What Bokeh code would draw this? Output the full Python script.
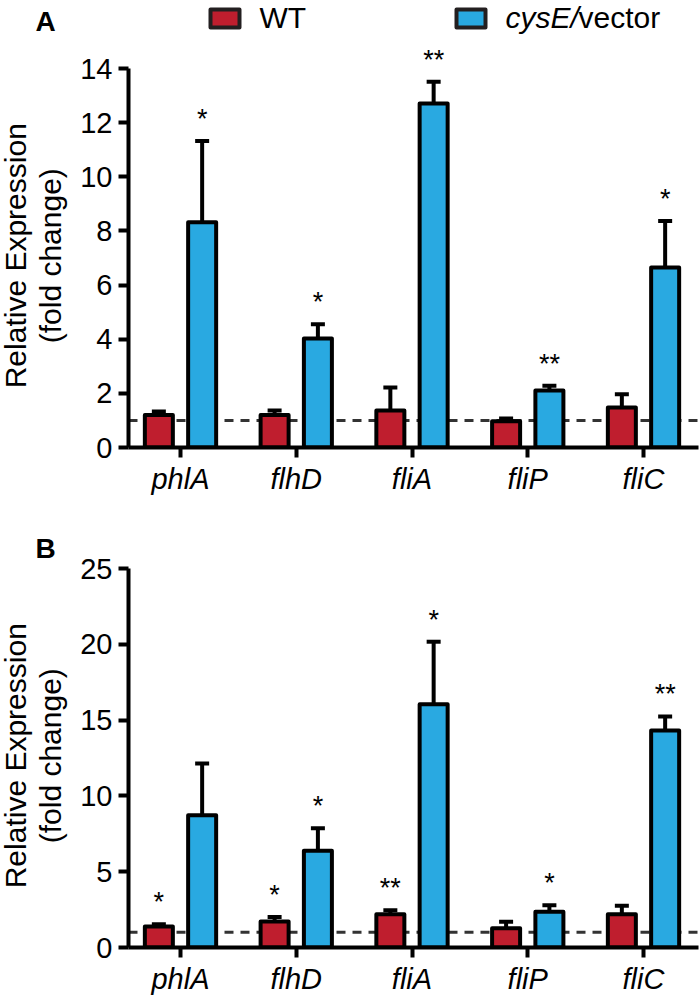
import numpy as np
import pandas as pd
from bokeh.plotting import figure
from bokeh.models import (ColumnDataSource, FixedTicker, Span, Whisker, TeeHead, Range1d)
from bokeh.layouts import column, row
from bokeh.embed import file_html
from bokeh.resources import INLINE
from bokeh.core.properties import value
from bokeh.transform import dodge

# ---------------- data ----------------
genes = ["phlA", "flhD", "fliA", "fliP", "fliC"]
groups = ["WT", "cysE/vector"]
y_title = ["Relative Expression", "(fold change)"]

# Panel A
a_wt = [1.20, 1.20, 1.37, 0.97, 1.48]
a_wt_err = [0.13, 0.17, 0.85, 0.10, 0.49]
a_cys = [8.32, 4.03, 12.71, 2.11, 6.65]
a_cys_err = [3.00, 0.52, 0.80, 0.17, 1.72]
a_wt_sig = ["", "", "", "", ""]
a_cys_sig = ["*", "*", "**", "**", "*"]
a_ticks = [0, 2, 4, 6, 8, 10, 12, 14]

# Panel B
b_wt = [1.39, 1.72, 2.20, 1.27, 2.20]
b_wt_err = [0.14, 0.30, 0.26, 0.43, 0.55]
b_cys = [8.73, 6.38, 16.05, 2.36, 14.32]
b_cys_err = [3.41, 1.49, 4.12, 0.43, 0.92]
b_wt_sig = ["*", "*", "**", "", ""]
b_cys_sig = ["", "*", "*", "*", "**"]
b_ticks = [0, 5, 10, 15, 20, 25]

baseline_level = 1.0

# ---------------- style / layout ----------------
RED = "#BF1E2E"
BLUE = "#29A9E1"
FONT = "Liberation Sans"
LEFT_W = 75          # side strip holding panel letter and y title
MAIN_W = 625
BORDER_L = 53        # frame left at page x = 128
BORDER_R = 2
PPU_X = 115.75
X0 = -(180 - (LEFT_W + BORDER_L)) / PPU_X
X1 = X0 + (MAIN_W - BORDER_L - BORDER_R) / PPU_X
FRAME_LEFT = LEFT_W + BORDER_L
OFF = 0.187
BAR_W = 0.242


def dx(px):
    return X0 + (px - FRAME_LEFT) / PPU_X


def side_strip(letter, height, letter_base, title_mid):
    s = figure(width=LEFT_W, height=height, output_backend="svg", toolbar_location=None,
               x_range=Range1d(0, LEFT_W), y_range=Range1d(0, height),
               x_axis_type=None, y_axis_type=None,
               min_border_left=0, min_border_right=0, min_border_top=0, min_border_bottom=0)
    s.outline_line_color = None
    s.grid.visible = False
    s.text(x=[35], y=[height - letter_base], text=[letter], text_font=value(FONT),
           text_font_size="28px", text_font_style="bold", text_color="black",
           text_align="left", text_baseline="alphabetic")
    s.text(x=[15, 50], y=[height - title_mid] * 2, text=y_title, angle=np.pi / 2,
           text_font=value(FONT), text_font_size="30px", text_color="black",
           text_align="center", text_baseline="alphabetic")
    return s


def make_panel(wt, wt_err, cys, cys_err, wt_sig, cys_sig, ticks,
               ppu_y, height, border_bottom, star_off, legend=False):
    frame_h = height - border_bottom
    top_val = frame_h / ppu_y

    def dy(py):  # py measured from the top of this figure
        return (frame_h - py) / ppu_y

    df = pd.DataFrame(dict(idx=np.arange(len(genes)), wt=wt, wt_err=wt_err,
                           cys=cys, cys_err=cys_err, wt_sig=wt_sig, cys_sig=cys_sig))
    df["wt_hi"] = df.wt + df.wt_err
    df["cys_hi"] = df.cys + df.cys_err
    df["wt_star"] = df.wt_hi + star_off
    df["cys_star"] = df.cys_hi + star_off
    src = ColumnDataSource(df)

    p = figure(width=MAIN_W, height=height, output_backend="svg", toolbar_location=None,
               x_range=Range1d(X0, X1), y_range=Range1d(0, top_val),
               min_border_left=BORDER_L, min_border_right=BORDER_R, min_border_top=0,
               min_border_bottom=border_bottom)
    p.outline_line_color = None
    p.grid.visible = False
    p.background_fill_color = "white"
    p.border_fill_color = "white"

    span = Span(location=baseline_level, dimension="width", line_color="#333333",
                line_width=3, line_dash="9 7", level="underlay")
    p.add_layout(span)

    p.vbar(x=dodge("idx", -OFF), top="wt", width=BAR_W, bottom=0, source=src,
           fill_color=RED, line_color="black", line_width=4, line_join="round")
    p.vbar(x=dodge("idx", OFF), top="cys", width=BAR_W, bottom=0, source=src,
           fill_color=BLUE, line_color="black", line_width=4, line_join="round")

    for off, lo, hi in [(-OFF, "wt", "wt_hi"), (OFF, "cys", "cys_hi")]:
        w = Whisker(base=dodge("idx", off), lower=lo, upper=hi, source=src,
                    dimension="height", line_width=4, line_color="black",
                    upper_head=TeeHead(size=14, line_width=4, line_color="black"),
                    lower_head=None)
        p.add_layout(w)

    for off, ycol, tcol in [(-OFF, "wt_star", "wt_sig"), (OFF, "cys_star", "cys_sig")]:
        p.text(x=dodge("idx", off), y=ycol, text=tcol, source=src,
               text_font=value(FONT), text_font_size="27px", text_align="center",
               text_baseline="alphabetic", text_color="black")

    # axes
    p.yaxis.ticker = FixedTicker(ticks=ticks)
    p.yaxis.bounds = (0, ticks[-1])
    p.xaxis.ticker = FixedTicker(ticks=list(range(len(genes))))
    p.xaxis.major_label_overrides = {i: g for i, g in enumerate(genes)}
    for ax in (p.xaxis, p.yaxis):
        ax.axis_line_width = 4
        ax.axis_line_color = "black"
        ax.major_tick_line_width = 4
        ax.major_tick_line_color = "black"
        ax.major_tick_out = 10
        ax.major_tick_in = 0
        ax.minor_tick_line_color = None
        ax.major_label_text_font = FONT
        ax.major_label_text_font_size = "29px"
        ax.major_label_text_color = "black"
    p.yaxis.major_label_standoff = 6
    p.xaxis.major_label_standoff = 5
    p.xaxis.major_label_text_font_style = "italic"

    if legend:
        p.rect(x=[dx(224.5), dx(470.5)], y=dy(18), width=29, height=18,
               width_units="screen", height_units="screen",
               fill_color=[RED, BLUE], line_color="#231F20", line_width=4,
               line_join="round")
        p.text(x=[dx(259)], y=[dy(17)], text=[groups[0]], text_font=value(FONT),
               text_font_size="30px", text_color="black", text_baseline="alphabetic")
        part1, part2 = groups[1].split("/")
        p.text(x=[dx(505)], y=[dy(17)], text=[part1 + "/"], text_font=value(FONT),
               text_font_size="30px", text_font_style="italic", text_color="black",
               text_baseline="alphabetic")
        p.text(x=[dx(578)], y=[dy(17)], text=[part2], text_font=value(FONT),
               text_font_size="30px", text_color="black", text_baseline="alphabetic")
    return p


HA, HB = 500, 500
pa = make_panel(a_wt, a_wt_err, a_cys, a_cys_err, a_wt_sig, a_cys_sig, a_ticks,
                ppu_y=379 / 14, height=HA, border_bottom=53, star_off=0.82, legend=True)
pb = make_panel(b_wt, b_wt_err, b_cys, b_cys_err, b_wt_sig, b_cys_sig, b_ticks,
                ppu_y=379 / 25, height=HB, border_bottom=53, star_off=1.45)
sa = side_strip("A", HA, letter_base=24, title_mid=285.5)
sb = side_strip("B", HB, letter_base=54, title_mid=285.5)

layout = column(row(sa, pa), row(sb, pb))
open("out.html", "w").write(file_html(layout, INLINE))
